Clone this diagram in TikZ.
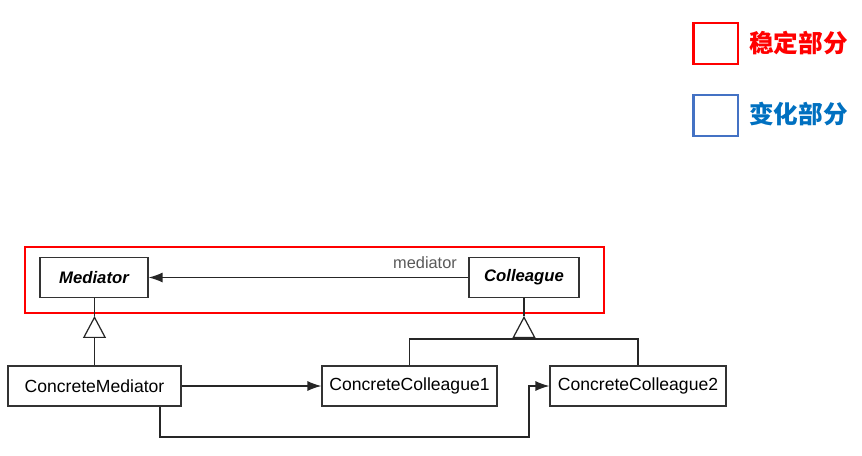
\documentclass[tikz,border=0pt]{standalone}
\usepackage{fontspec}
\setmainfont{Liberation Sans}
\newfontfamily\cjk{Noto Sans CJK SC}
\usetikzlibrary{arrows.meta,positioning,calc}
\definecolor{stablered}{RGB}{255,0,0}
\definecolor{keyblue}{RGB}{68,114,196}
\definecolor{varyblue}{RGB}{0,112,192}

\begin{document}
\begin{tikzpicture}
		[x=0.02cm, y=-0.02cm, inner sep=0pt, font=\fontsize{10}{12}\selectfont,
		cls/.style		= {rectangle,draw=black!80,line width=0.7pt,minimum height=0.8cm},
		abstract/.style	= {cls,font=\fontsize{9.5}{11}\selectfont\bfseries\itshape},
		assoc/.style	= {-{Latex[length=0.28cm,width=0.2cm]}, draw=black!85, line width=0.7pt},
		inherit/.style	= {-{Triangle[fill=white,length=0.44cm,width=0.46cm]}, draw=black!85, line width=0.7pt},
		link/.style		= {draw=black!85, line width=0.7pt},
		region/.style	= {draw=stablered, line width=1.4pt},
		key/.style		= {rectangle, line width=1.7pt, minimum width=0.9cm, minimum height=0.82cm},
		keytext/.style	= {anchor=west, font=\cjk\bfseries\fontsize{14}{16}\selectfont}]
		
		\useasboundingbox (0,0) rectangle (862,456);
		
		% legend
		\node at (715.5, 43.5)	[key, draw=stablered]	(kstable)	{};
		\node at (715.5, 115.5)	[key, draw=keyblue]		(kvary)		{};
		\node at (749, 43.5)	[keytext, text=stablered]	(tstable)	{稳定部分};
		\node at (749, 114)		[keytext, text=varyblue]	(tvary)		{变化部分};
		
		% stable part
		\draw [region] (25, 247) rectangle (604, 313);
		
		\node at (94, 277.5)	[abstract, minimum width=2.16cm]	(med)	{Mediator};
		\node at (524, 277.5)	[abstract, minimum width=2.2cm]		(col)	{Colleague};
		
		\node at (94.5, 386)	[cls, minimum width=3.46cm]	(cmed)	{ConcreteMediator};
		\node at (409.5, 386)	[cls, minimum width=3.5cm]	(cc1)	{ConcreteColleague1};
		\node at (638, 386)		[cls, minimum width=3.52cm]	(cc2)	{ConcreteColleague2};
		
		\coordinate (mtip)	at (94.5, 316);
		\coordinate (ctip)	at (524, 316);
		\coordinate (cbase)	at (524, 339);
		\coordinate (k1)	at (160, 437);
		\coordinate (k2)	at (529, 437);
		
		\draw [assoc] (col.west) -- (med.east);
		\node at (425, 263) [text=black!65, font=\fontsize{9.3}{11}\selectfont] (mlabel) {mediator};
		
		\draw [link] (mtip) -- (mtip |- med.south);
		\draw [inherit] (cmed.north) -- (mtip);
		
		\draw [link] (cc1.north) |- (cbase) -| (cc2.north);
		\draw [link] (ctip) -- (col.south);
		\draw [inherit] (cbase) -- (ctip);
		
		\draw [assoc] (cmed.east) -- (cc1.west);
		\draw [assoc] (cmed.south -| k1) -- (k1) -- (k2) |- (cc2.west);
		
		\end{tikzpicture}
\end{document}
